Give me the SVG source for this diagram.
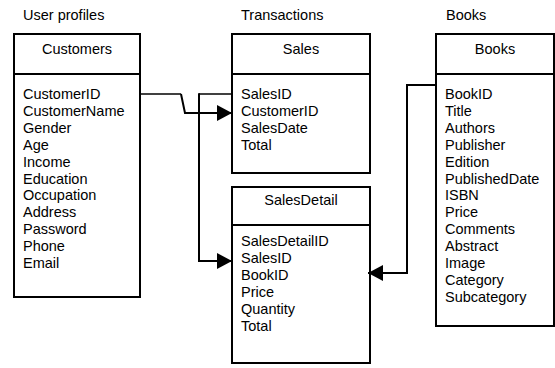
<svg xmlns="http://www.w3.org/2000/svg" width="555" height="368" viewBox="0 0 555 368">
  <style>
    text { font-family: "Liberation Sans", Arial, sans-serif; font-size: 14.5px; fill: #000; }
    .title { text-anchor: middle; }
    .box { fill: #fff; stroke: #000; stroke-width: 2; }
    .div { stroke: #000; stroke-width: 2; }
    .link { fill: none; stroke: #000; stroke-width: 2; }
    .thin { fill: none; stroke: #000; stroke-width: 1.6; }
  </style>
  <defs>
    <marker id="arrow" viewBox="0 0 15 16" refX="15" refY="8" markerWidth="15" markerHeight="16" markerUnits="userSpaceOnUse" orient="auto">
      <path d="M0,0 L15,8 L0,16 Z" fill="#000"/>
    </marker>
  </defs>

  <!-- column captions -->
  <text x="23" y="20">User profiles</text>
  <text x="241" y="20">Transactions</text>
  <text x="446" y="20">Books</text>

  <!-- Customers table -->
  <g id="customers">
    <rect class="box" x="14" y="34" width="126" height="263"/>
    <line class="div" x1="14" y1="74" x2="140" y2="74"/>
    <text class="title" x="77" y="54">Customers</text>
    <text x="23" y="99">CustomerID</text>
    <text x="23" y="115.9">CustomerName</text>
    <text x="23" y="132.8">Gender</text>
    <text x="23" y="149.7">Age</text>
    <text x="23" y="166.6">Income</text>
    <text x="23" y="183.5">Education</text>
    <text x="23" y="200.4">Occupation</text>
    <text x="23" y="217.3">Address</text>
    <text x="23" y="234.2">Password</text>
    <text x="23" y="251.1">Phone</text>
    <text x="23" y="268">Email</text>
  </g>

  <!-- Sales table -->
  <g id="sales">
    <rect class="box" x="232" y="34" width="138" height="139"/>
    <line class="div" x1="232" y1="74" x2="370" y2="74"/>
    <text class="title" x="301" y="54">Sales</text>
    <text x="241" y="99">SalesID</text>
    <text x="241" y="115.9">CustomerID</text>
    <text x="241" y="132.8">SalesDate</text>
    <text x="241" y="149.7">Total</text>
  </g>

  <!-- SalesDetail table -->
  <g id="salesdetail">
    <rect class="box" x="232" y="187" width="138" height="176"/>
    <line class="div" x1="232" y1="225" x2="370" y2="225"/>
    <text class="title" x="301" y="205">SalesDetail</text>
    <text x="241" y="246">SalesDetailID</text>
    <text x="241" y="262.9">SalesID</text>
    <text x="241" y="279.8">BookID</text>
    <text x="241" y="296.7">Price</text>
    <text x="241" y="313.6">Quantity</text>
    <text x="241" y="330.5">Total</text>
  </g>

  <!-- Books table -->
  <g id="books">
    <rect class="box" x="436" y="34" width="118" height="292"/>
    <line class="div" x1="436" y1="74" x2="554" y2="74"/>
    <text class="title" x="495" y="54">Books</text>
    <text x="445" y="99">BookID</text>
    <text x="445" y="115.9">Title</text>
    <text x="445" y="132.8">Authors</text>
    <text x="445" y="149.7">Publisher</text>
    <text x="445" y="166.6">Edition</text>
    <text x="445" y="183.5">PublishedDate</text>
    <text x="445" y="200.4">ISBN</text>
    <text x="445" y="217.3">Price</text>
    <text x="445" y="234.2">Comments</text>
    <text x="445" y="251.1">Abstract</text>
    <text x="445" y="268">Image</text>
    <text x="445" y="284.9">Category</text>
    <text x="445" y="301.8">Subcategory</text>
  </g>

  <!-- relationships -->
  <g id="connectors">
    <!-- Customers.CustomerID to Sales.CustomerID -->
    <polyline class="thin" points="140,94 181,94"/>
    <polyline class="link" points="181,94 185,113 232,113" marker-end="url(#arrow)"/>
    <!-- Sales.SalesID to SalesDetail.SalesID -->
    <polyline class="thin" points="232,94 199,94"/>
    <polyline class="link" points="199,93.2 199,261 232,261" marker-end="url(#arrow)"/>
    <!-- Books.BookID to SalesDetail.BookID -->
    <polyline class="link" points="436,85 407,85 407,273 368,273" marker-end="url(#arrow)"/>
  </g>
</svg>
